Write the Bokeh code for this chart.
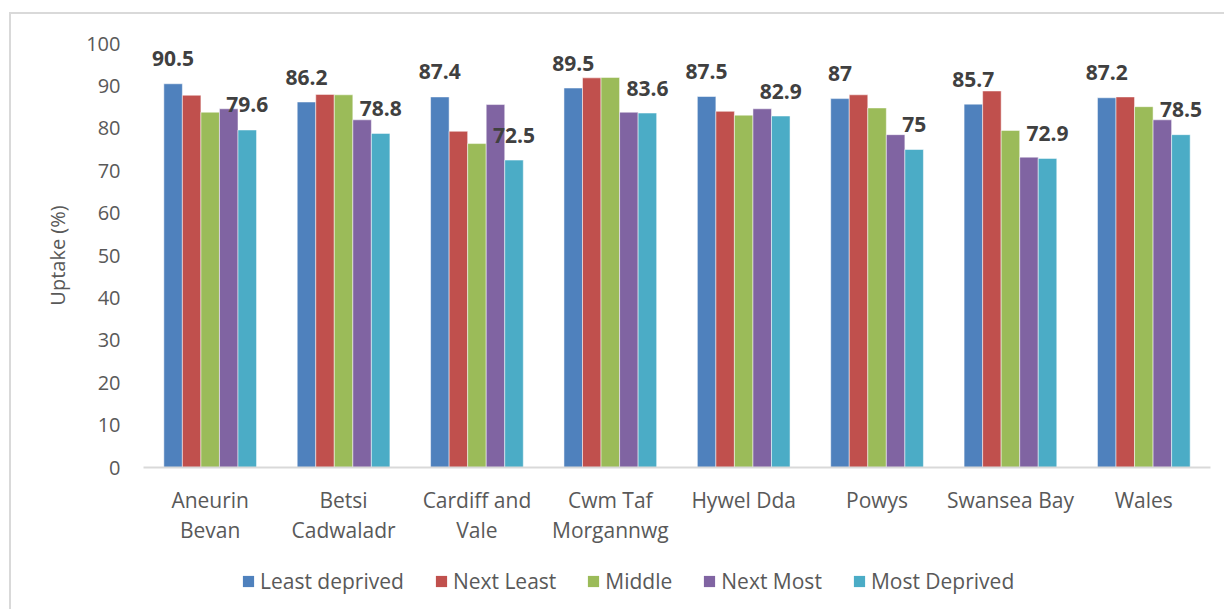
from bokeh.plotting import figure
from bokeh.layouts import column
from bokeh.models import ColumnDataSource, FactorRange, Range1d, Legend, LegendItem
from bokeh.transform import dodge
from bokeh.core.properties import value
from bokeh.embed import file_html
from bokeh.resources import INLINE

categories = ["Aneurin\nBevan", "Betsi\nCadwaladr", "Cardiff and\nVale", "Cwm Taf\nMorgannwg",
              "Hywel Dda", "Powys", "Swansea Bay", "Wales"]
series_names = ["Least deprived", "Next Least", "Middle", "Next Most", "Most Deprived"]
least_deprived = [90.5, 86.2, 87.4, 89.5, 87.5, 87.0, 85.7, 87.2]
next_least = [87.8, 88.0, 79.3, 91.9, 84.0, 87.9, 88.8, 87.4]
middle = [83.8, 87.9, 76.4, 92.0, 83.1, 84.8, 79.5, 85.1]
next_most = [84.6, 82.0, 85.6, 83.8, 84.6, 78.5, 73.2, 82.0]
most_deprived = [79.6, 78.8, 72.5, 83.6, 82.9, 75.0, 72.9, 78.5]
y_ticks = list(range(0, 101, 10))

colors = ["#4f81bd", "#c0504d", "#9bbb59", "#8064a2", "#4bacc6"]
FONT = "Open Sans"
GREY = "#595959"

src = ColumnDataSource(dict(
    cat=categories,
    s0=least_deprived, s1=next_least, s2=middle, s3=next_most, s4=most_deprived,
    t0=[f"{v:g}" for v in least_deprived],
    t4=[f"{v:g}" for v in most_deprived],
))

fig = figure(x_range=FactorRange(*categories, range_padding=0),
             y_range=Range1d(0, 100),
             width=1213, height=545, output_backend="svg", toolbar_location=None,
             min_border_left=132, min_border_right=14, min_border_top=29, min_border_bottom=92)

bw = 0.139
offsets = [-2 * bw, -bw, 0.0, bw, 2 * bw]
for i, off in enumerate(offsets):
    fig.vbar(x=dodge("cat", off, range=fig.x_range), top=f"s{i}", width=bw, source=src,
             fill_color=colors[i], line_color="white", line_alpha=0.5, line_width=1)

for i, key in [(0, "t0"), (4, "t4")]:
    fig.text(x=dodge("cat", offsets[i], range=fig.x_range), y=f"s{i}", text=key, source=src,
             text_font=value(FONT), text_font_size="21px", text_font_style="bold",
             text_color="#404040", text_align="center", text_baseline="alphabetic",
             y_offset=-25)

fig.outline_line_color = None
fig.grid.grid_line_color = None
fig.background_fill_color = "white"
fig.border_fill_color = "white"

ya = fig.yaxis[0]
ya.ticker = y_ticks
ya.axis_line_color = None
ya.major_tick_line_color = None
ya.minor_tick_line_color = None
ya.major_label_text_font = FONT
ya.major_label_text_font_size = "20px"
ya.major_label_text_color = GREY
ya.major_label_standoff = 17
ya.axis_label = "Uptake (%)"
ya.axis_label_text_font = FONT
ya.axis_label_text_font_size = "20px"
ya.axis_label_text_font_style = "normal"
ya.axis_label_text_color = GREY
ya.axis_label_standoff = 12

xa = fig.xaxis[0]
xa.major_tick_line_color = None
xa.minor_tick_line_color = None
xa.axis_line_color = "#d9d9d9"
xa.axis_line_width = 2
xa.major_label_text_font = FONT
xa.major_label_text_font_size = "21px"
xa.major_label_text_color = GREY
xa.major_label_text_line_height = 1.1
xa.major_label_standoff = 12

# legend strip below the chart
leg_fig = figure(width=1213, height=50, output_backend="svg", toolbar_location=None,
                 x_range=Range1d(0, 1), y_range=Range1d(0, 1),
                 x_axis_location=None, y_axis_location=None,
                 min_border_left=0, min_border_right=0, min_border_top=0, min_border_bottom=0)
leg_fig.outline_line_color = None
leg_fig.grid.grid_line_color = None
leg_fig.border_fill_color = "white"
leg_fig.background_fill_color = "white"
leg_renderers = [leg_fig.vbar(x=[-5], top=[0], bottom=[0], width=0.1, fill_color=c, line_color=None)
                 for c in colors]

legend = Legend(items=[LegendItem(label=n, renderers=[r]) for n, r in zip(series_names, leg_renderers)],
                orientation="horizontal", location=(98, 14),
                glyph_width=14, glyph_height=14, label_standoff=5, spacing=30,
                padding=0, margin=0, border_line_color=None, background_fill_alpha=0,
                label_text_font=FONT, label_text_font_size="21px", label_text_color=GREY)
leg_fig.add_layout(legend, "center")

p = column(fig, leg_fig, spacing=0)
p.styles = {"margin-left": "9px", "margin-top": "12px",
            "border-top": "2px solid #d9d9d9", "border-left": "2px solid #d9d9d9"}

open("out.html", "w").write(file_html(p, INLINE))
